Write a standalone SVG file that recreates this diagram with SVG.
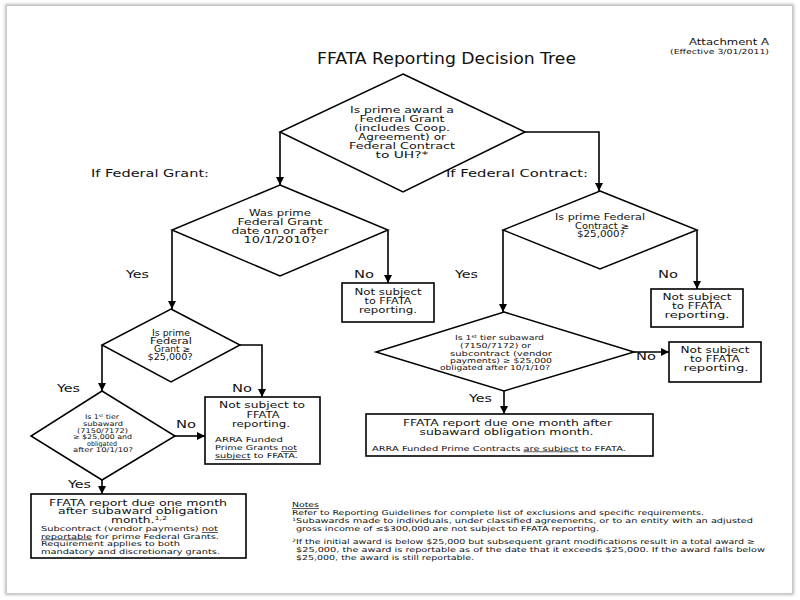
<svg xmlns="http://www.w3.org/2000/svg" width="800" height="600" viewBox="0 0 800 600">
<defs>
<marker id="ah" viewBox="0 0 10 10" refX="10" refY="5" markerWidth="8" markerHeight="8" markerUnits="userSpaceOnUse" orient="auto"><path d="M0,0 L10,5 L0,10 z" fill="#000"/></marker>
<filter id="sh" x="-5%" y="-5%" width="110%" height="110%"><feGaussianBlur stdDeviation="1.5"/></filter>
<style>
text{font-family:"DejaVu Sans","Liberation Sans",sans-serif;fill:#111}
.d{fill:#fff;stroke:#000;stroke-width:1.5}
.b{fill:#fff;stroke:#000;stroke-width:1.6}
.c{fill:none;stroke:#000;stroke-width:1.6;marker-end:url(#ah)}
.m{text-anchor:middle}
.t{font-size:9px}
.h{font-size:8.5px}
.t8{font-size:8px}
.s{font-size:6.5px}
.s7{font-size:7px}
.lab{font-size:11px}
.n{font-size:6.8px}
.u{text-decoration:underline}
</style>
</defs>
<rect x="0" y="0" width="800" height="600" fill="#fff"/>
<rect x="7" y="6" width="785" height="587" fill="none" stroke="#bbb" stroke-width="4" filter="url(#sh)"/>
<rect x="7" y="6" width="785" height="587" fill="#fff"/>

<text x="769" y="45" font-size="8.5" text-anchor="end" textLength="80" lengthAdjust="spacingAndGlyphs">Attachment A</text>
<text x="769" y="53.5" font-size="7" text-anchor="end" textLength="99" lengthAdjust="spacingAndGlyphs">(Effective 3/01/2011)</text>
<text x="446.5" y="64" font-size="16" class="m" textLength="259" lengthAdjust="spacingAndGlyphs">FFATA Reporting Decision Tree</text>

<g id="connectors">
<polyline class="c" points="280,132 280,185"/>
<polyline class="c" points="525,132 599,132 599,191"/>
<polyline class="c" points="172,230 172,309"/>
<polyline class="c" points="388,230 388,283"/>
<polyline class="c" points="503,230 503,312"/>
<polyline class="c" points="697,230 697,289"/>
<polyline class="c" points="102,345 102,391"/>
<polyline class="c" points="240,345 262,345 262,397"/>
<polyline class="c" points="175,436 205,436"/>
<polyline class="c" points="102,480 102,494"/>
<polyline class="c" points="634,352 669,352"/>
<polyline class="c" points="504,391 504,414"/>
</g>

<g id="labels">
<text class="lab" x="91" y="177" textLength="118" lengthAdjust="spacingAndGlyphs">If Federal Grant:</text>
<text class="lab" x="446" y="177" textLength="142" lengthAdjust="spacingAndGlyphs">If Federal Contract:</text>
<text class="lab" x="126" y="278" textLength="23" lengthAdjust="spacingAndGlyphs">Yes</text>
<text class="lab" x="354" y="278" textLength="20" lengthAdjust="spacingAndGlyphs">No</text>
<text class="lab" x="455" y="278" textLength="23" lengthAdjust="spacingAndGlyphs">Yes</text>
<text class="lab" x="658" y="278" textLength="20" lengthAdjust="spacingAndGlyphs">No</text>
<text class="lab" x="57" y="392" textLength="23" lengthAdjust="spacingAndGlyphs">Yes</text>
<text class="lab" x="232" y="392" textLength="20" lengthAdjust="spacingAndGlyphs">No</text>
<text class="lab" x="176" y="428" textLength="20" lengthAdjust="spacingAndGlyphs">No</text>
<text class="lab" x="68" y="488" textLength="23" lengthAdjust="spacingAndGlyphs">Yes</text>
<text class="lab" x="636" y="360" textLength="20" lengthAdjust="spacingAndGlyphs">No</text>
<text class="lab" x="469" y="402" textLength="23" lengthAdjust="spacingAndGlyphs">Yes</text>
</g>

<g id="q1">
<polygon class="d" points="403,74 525,132 403,192 280,132"/>
<text class="t m" x="402" y="113" textLength="104" lengthAdjust="spacingAndGlyphs">Is prime award a</text>
<text class="t m" x="402" y="122" textLength="85" lengthAdjust="spacingAndGlyphs">Federal Grant</text>
<text class="t m" x="402" y="131" textLength="96" lengthAdjust="spacingAndGlyphs">(includes Coop.</text>
<text class="t m" x="402" y="140" textLength="88" lengthAdjust="spacingAndGlyphs">Agreement) or</text>
<text class="t m" x="402" y="149" textLength="106" lengthAdjust="spacingAndGlyphs">Federal Contract</text>
<text class="t m" x="402" y="158" textLength="53" lengthAdjust="spacingAndGlyphs">to UH?*</text>
</g>

<g id="q2">
<polygon class="d" points="280,185 388,230 280,276 172,230"/>
<text class="t m" x="280" y="216" textLength="62" lengthAdjust="spacingAndGlyphs">Was prime</text>
<text class="t m" x="280" y="225" textLength="85" lengthAdjust="spacingAndGlyphs">Federal Grant</text>
<text class="t m" x="280" y="234" textLength="97" lengthAdjust="spacingAndGlyphs">date on or after</text>
<text class="t m" x="280" y="243" textLength="73" lengthAdjust="spacingAndGlyphs">10/1/2010?</text>
</g>

<g id="q3">
<polygon class="d" points="600,191 697,230 600,269 503,230"/>
<text class="t8 m" x="600" y="220" textLength="90" lengthAdjust="spacingAndGlyphs">Is prime Federal</text>
<text class="t8 m" x="602" y="228.5" textLength="54" lengthAdjust="spacingAndGlyphs">Contract ≥</text>
<text class="t8 m" x="601" y="237" textLength="48" lengthAdjust="spacingAndGlyphs">$25,000?</text>
</g>

<g id="q4">
<polygon class="d" points="171,309 240,345 171,382 102,345"/>
<text class="t8 m" x="171" y="336" textLength="38" lengthAdjust="spacingAndGlyphs">Is prime</text>
<text class="t8 m" x="171" y="344" textLength="42" lengthAdjust="spacingAndGlyphs">Federal</text>
<text class="t8 m" x="172" y="352" textLength="36" lengthAdjust="spacingAndGlyphs">Grant ≥</text>
<text class="t8 m" x="170" y="360" textLength="45" lengthAdjust="spacingAndGlyphs">$25,000?</text>
</g>

<g id="q5">
<polygon class="d" points="102,391 175,436 102,480 31,436"/>
<text class="s m" x="102" y="419" textLength="34" lengthAdjust="spacingAndGlyphs">Is 1<tspan font-size="4" dy="-2">st</tspan><tspan dy="2"> tier</tspan></text>
<text class="s m" x="103" y="426" textLength="40" lengthAdjust="spacingAndGlyphs">subaward</text>
<text class="s m" x="102.5" y="432.5" textLength="51" lengthAdjust="spacingAndGlyphs">(7150/7172)</text>
<text class="s m" x="102.5" y="439" textLength="59" lengthAdjust="spacingAndGlyphs">≥ $25,000 and</text>
<text class="s m" x="102" y="445.5" textLength="30" lengthAdjust="spacingAndGlyphs">obligated</text>
<text class="s m" x="103" y="452" textLength="60" lengthAdjust="spacingAndGlyphs">after 10/1/10?</text>
</g>

<g id="q6">
<polygon class="d" points="504,312 634,352 504,391 376,352"/>
<text class="s7 m" x="499.5" y="339.5" textLength="89" lengthAdjust="spacingAndGlyphs">Is 1<tspan font-size="4.5" dy="-2">st</tspan><tspan dy="2"> tier subaward</tspan></text>
<text class="s7 m" x="495.5" y="348" textLength="71" lengthAdjust="spacingAndGlyphs">(7150/7172) or</text>
<text class="s7 m" x="501" y="355.5" textLength="102" lengthAdjust="spacingAndGlyphs">subcontract (vendor</text>
<text class="s7 m" x="501" y="362.5" textLength="102" lengthAdjust="spacingAndGlyphs">payments) ≥ $25,000</text>
<text class="s7 m" x="495" y="369.5" textLength="110" lengthAdjust="spacingAndGlyphs">obligated after 10/1/10?</text>
</g>

<g id="b1">
<rect class="b" x="342" y="283" width="92" height="39"/>
<text class="t m" x="388" y="295" textLength="67" lengthAdjust="spacingAndGlyphs">Not subject</text>
<text class="t m" x="388" y="304" textLength="47" lengthAdjust="spacingAndGlyphs">to FFATA</text>
<text class="t m" x="388" y="313" textLength="58" lengthAdjust="spacingAndGlyphs">reporting.</text>
</g>

<g id="b2">
<rect class="b" x="651" y="289" width="92" height="38"/>
<text class="t m" x="697" y="300" textLength="69" lengthAdjust="spacingAndGlyphs">Not subject</text>
<text class="t m" x="697" y="309" textLength="50" lengthAdjust="spacingAndGlyphs">to FFATA</text>
<text class="t m" x="697" y="318" textLength="65" lengthAdjust="spacingAndGlyphs">reporting.</text>
</g>

<g id="b3">
<rect class="b" x="205" y="397" width="115" height="67"/>
<text class="t m" x="262" y="408" textLength="86" lengthAdjust="spacingAndGlyphs">Not subject to</text>
<text class="t m" x="263" y="417.5" textLength="33" lengthAdjust="spacingAndGlyphs">FFATA</text>
<text class="t m" x="261" y="427" textLength="58" lengthAdjust="spacingAndGlyphs">reporting.</text>
<text class="n" x="215" y="442" textLength="68" lengthAdjust="spacingAndGlyphs">ARRA Funded</text>
<text class="n" x="215" y="450" textLength="82" lengthAdjust="spacingAndGlyphs">Prime Grants <tspan class="u">not</tspan></text>
<text class="n" x="215" y="458" textLength="83" lengthAdjust="spacingAndGlyphs"><tspan class="u">subject</tspan> to FFATA.</text>
</g>

<g id="b4">
<rect class="b" x="31" y="494" width="215" height="64"/>
<text class="h m" x="138" y="505.5" textLength="178" lengthAdjust="spacingAndGlyphs">FFATA report due one month</text>
<text class="h m" x="138" y="514" textLength="160" lengthAdjust="spacingAndGlyphs">after subaward obligation</text>
<text class="h m" x="139" y="522.5" textLength="56" lengthAdjust="spacingAndGlyphs">month.<tspan font-size="5.5" dy="-3">1,2</tspan></text>
<text class="n" x="41" y="531" textLength="177" lengthAdjust="spacingAndGlyphs">Subcontract (vendor payments) <tspan class="u">not</tspan></text>
<text class="n" x="41" y="538.5" textLength="178" lengthAdjust="spacingAndGlyphs"><tspan class="u">reportable</tspan> for prime Federal Grants.</text>
<text class="n" x="41" y="546" textLength="139" lengthAdjust="spacingAndGlyphs">Requirement applies to both</text>
<text class="n" x="41" y="553.5" textLength="179" lengthAdjust="spacingAndGlyphs">mandatory and discretionary grants.</text>
</g>

<g id="b5">
<rect class="b" x="669" y="342" width="92" height="40"/>
<text class="t m" x="715" y="353" textLength="69" lengthAdjust="spacingAndGlyphs">Not subject</text>
<text class="t m" x="715" y="362" textLength="50" lengthAdjust="spacingAndGlyphs">to FFATA</text>
<text class="t m" x="716" y="371" textLength="65" lengthAdjust="spacingAndGlyphs">reporting.</text>
</g>

<g id="b6">
<rect class="b" x="366" y="414" width="287" height="42"/>
<text class="t m" x="507.5" y="425.5" textLength="209" lengthAdjust="spacingAndGlyphs">FFATA report due one month after</text>
<text class="t m" x="506.5" y="434.5" textLength="174" lengthAdjust="spacingAndGlyphs">subaward obligation month.</text>
<text class="n" x="372" y="450.5" textLength="254" lengthAdjust="spacingAndGlyphs">ARRA Funded Prime Contracts <tspan class="u">are subject</tspan> to FFATA.</text>
</g>

<g id="notes">
<text class="n u" x="292" y="507" textLength="27" lengthAdjust="spacingAndGlyphs">Notes</text>
<text class="n" x="292" y="515" textLength="412" lengthAdjust="spacingAndGlyphs">Refer to Reporting Guidelines for complete list of exclusions and specific requirements.</text>
<text class="n" x="292" y="523" textLength="461" lengthAdjust="spacingAndGlyphs"><tspan font-size="4.5" dy="-2">1</tspan><tspan dy="2">Subawards made to individuals, under classified agreements, or to an entity with an adjusted</tspan></text>
<text class="n" x="296" y="531" textLength="303" lengthAdjust="spacingAndGlyphs">gross income of ≤$300,000 are not subject to FFATA reporting.</text>
<text class="n" x="292" y="543.5" textLength="463" lengthAdjust="spacingAndGlyphs"><tspan font-size="4.5" dy="-2">2</tspan><tspan dy="2">If the initial award is below $25,000 but subsequent grant modifications result in a total award ≥</tspan></text>
<text class="n" x="296" y="551.5" textLength="469" lengthAdjust="spacingAndGlyphs">$25,000, the award is reportable as of the date that it exceeds $25,000.  If the award falls below</text>
<text class="n" x="296" y="559.5" textLength="178" lengthAdjust="spacingAndGlyphs">$25,000, the award is still reportable.</text>
</g>
</svg>
